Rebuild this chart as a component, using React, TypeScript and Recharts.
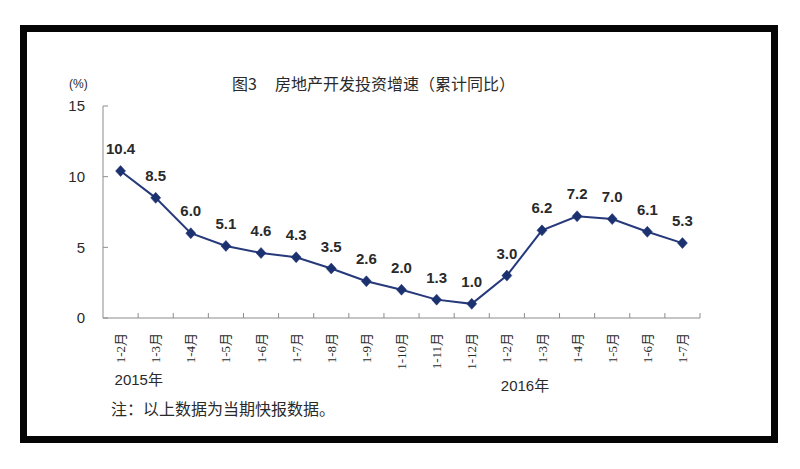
import React from "react";
import { LineChart, Line, XAxis, YAxis, LabelList } from "recharts";

const categories = [
  "1-2月", "1-3月", "1-4月", "1-5月", "1-6月", "1-7月", "1-8月", "1-9月", "1-10月", "1-11月", "1-12月",
  "1-2月", "1-3月", "1-4月", "1-5月", "1-6月", "1-7月",
];
const growth = [10.4, 8.5, 6.0, 5.1, 4.6, 4.3, 3.5, 2.6, 2.0, 1.3, 1.0, 3.0, 6.2, 7.2, 7.0, 6.1, 5.3];
const yTicks = [0, 5, 10, 15];
const yearLabels = ["2015年", "2016年"];
const yearStarts = [0, 11];

const data = categories.map((c, i) => ({ id: `${i}`, label: c, value: growth[i] }));

const W = 800;
const H = 469;
const MARGIN = { top: 106, right: 100, bottom: 121, left: 63 };
const Y_AXIS_W = 40;
const X_AXIS_H = 30;
const PLOT_W = W - MARGIN.left - MARGIN.right - Y_AXIS_W;
const BAND = PLOT_W / categories.length;
const TICK_MARGIN = 14;

const LINE_COLOR = "#26397A";
const MARK_COLOR = "#1B3170";
const AXIS_COLOR = "#8c8c8c";
const TEXT_COLOR = "#2a2a2a";

const XTick = (props: any) => {
  const { x, y, payload } = props;
  const idx = payload.index;
  const axisY = y - TICK_MARGIN;
  const yi = yearStarts.indexOf(idx);
  return (
    <g>
      <line x1={x + BAND / 2} x2={x + BAND / 2} y1={axisY} y2={axisY - 5} stroke={AXIS_COLOR} strokeWidth={1} />
      <text
        transform={`translate(${x},${y + 1}) rotate(-90)`}
        textAnchor="end"
        dy="0.35em"
        fontSize={13}
        fontFamily="'Liberation Serif', 'Noto Sans CJK SC', serif"
        fill={TEXT_COLOR}
      >
        {categories[idx]}
      </text>
      {yi >= 0 && (
        <text
          x={x - 6}
          y={y + (yi === 0 ? 48 : 54)}
          dy="0.35em"
          fontSize={15}
          fontFamily="'Liberation Sans', 'Noto Sans CJK SC', sans-serif"
          fill={TEXT_COLOR}
        >
          {yearLabels[yi]}
        </text>
      )}
    </g>
  );
};

const YTick = (props: any) => {
  const { x, y, payload } = props;
  return (
    <text
      x={x}
      y={y}
      dy="0.35em"
      textAnchor="end"
      fontSize={15}
      fontFamily="'Liberation Sans', Arial, sans-serif"
      fill={TEXT_COLOR}
    >
      {payload.value}
    </text>
  );
};

const Diamond = (props: any) => {
  const { cx, cy, index } = props;
  if (cx == null || cy == null) return <g key={index} />;
  const w = 5;
  const h = 5.5;
  return (
    <polygon
      key={index}
      points={`${cx},${cy - h} ${cx + w},${cy} ${cx},${cy + h} ${cx - w},${cy}`}
      fill={MARK_COLOR}
      stroke={MARK_COLOR}
      strokeWidth={0.5}
    />
  );
};

const cjk = "'Noto Sans CJK SC', sans-serif";

export default function App() {
  return (
    <div style={{ position: "relative", width: W, height: H, background: "#fff", overflow: "hidden" }}>
      <style>{`body{margin:0;background:#fff}`}</style>
      <div
        style={{
          position: "absolute",
          left: 20,
          top: 25,
          width: 758,
          height: 418,
          border: "7px solid #050505",
          boxSizing: "border-box",
        }}
      />
      <div
        style={{
          position: "absolute",
          left: 232,
          top: 73,
          fontSize: 16,
          lineHeight: "20px",
          whiteSpace: "pre",
          color: TEXT_COLOR,
          fontFamily: cjk,
        }}
      >
        图3
      </div>
      <div
        style={{
          position: "absolute",
          left: 275,
          top: 73,
          fontSize: 16,
          lineHeight: "20px",
          whiteSpace: "pre",
          color: TEXT_COLOR,
          fontFamily: cjk,
        }}
      >
        房地产开发投资增速（累计同比）
      </div>
      <div
        style={{
          position: "absolute",
          left: 69,
          top: 76,
          fontSize: 12,
          lineHeight: "16px",
          color: TEXT_COLOR,
          fontFamily: "'Liberation Sans', Arial, sans-serif",
        }}
      >
        (%)
      </div>
      <div
        style={{
          position: "absolute",
          left: 111,
          top: 398,
          fontSize: 16,
          lineHeight: "20px",
          whiteSpace: "pre",
          color: TEXT_COLOR,
          fontFamily: cjk,
        }}
      >
        注：以上数据为当期快报数据。
      </div>
      <div style={{ position: "absolute", left: 0, top: 0 }}>
        <LineChart width={W} height={H} data={data} margin={MARGIN}>
          <XAxis
            dataKey="id"
            scale="band"
            height={X_AXIS_H}
            interval={0}
            tickLine={false}
            tickSize={0}
            tickMargin={TICK_MARGIN}
            axisLine={{ stroke: AXIS_COLOR, strokeWidth: 1 }}
            tick={<XTick />}
          />
          <YAxis
            width={Y_AXIS_W}
            domain={[0, 15]}
            ticks={yTicks}
            interval={0}
            tickSize={-5}
            tickMargin={23}
            axisLine={{ stroke: AXIS_COLOR, strokeWidth: 1 }}
            tickLine={{ stroke: AXIS_COLOR, strokeWidth: 1 }}
            tick={<YTick />}
          />
          <Line
            type="linear"
            dataKey="value"
            stroke={LINE_COLOR}
            strokeWidth={2}
            isAnimationActive={false}
            dot={(p: any) => <Diamond key={p.index} {...p} />}
            activeDot={false}
          >
            <LabelList
              dataKey="value"
              position="top"
              offset={17}
              formatter={(v: any) => Number(v).toFixed(1)}
              style={{
                fontSize: 15,
                fontWeight: "bold",
                fill: TEXT_COLOR,
                fontFamily: "'Liberation Sans', Arial, sans-serif",
              }}
            />
          </Line>
        </LineChart>
      </div>
    </div>
  );
}
